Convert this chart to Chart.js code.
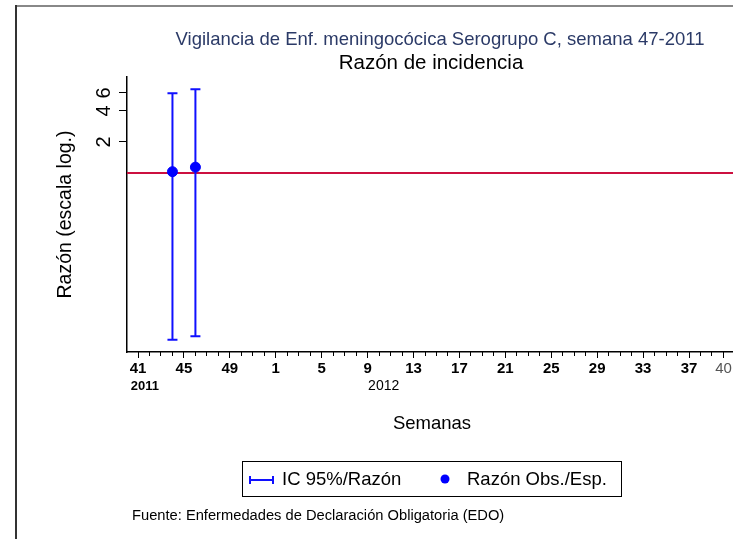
<!DOCTYPE html>
<html><head><meta charset="utf-8">
<script src="https://cdn.jsdelivr.net/npm/chart.js@4/dist/chart.umd.min.js"></script>
<style>html,body{margin:0;padding:0;background:#fff}#wrap{position:relative;width:733px;height:539px}</style>
</head><body><div id="wrap"><canvas id="c" width="733" height="539"></canvas></div>
<script>
// ---- data ----
const weeks = [41,42,43,44,45,46,47,48,49,50,51,52,1,2,3,4,5,6,7,8,9,10,11,12,13,14,15,16,17,18,19,20,21,22,23,24,25,26,27,28,29,30,31,32,33,34,35,36,37,38,39,40];
const labeledIdx = [0,4,8,12,16,20,24,28,32,36,40,44,48,51];
const yearLabels = ['2011','2012'];
const yearIdx = [0.6, 21.4];
const obsIdx = [3, 5];          // semanas 44 y 46 de 2011
const ratio = [1.03, 1.14];
const ciLow = [0.024, 0.026];
const ciHigh = [5.95, 6.5];
const refValue = 1;
const yTicks = [2, 4, 6];

const FONT = "'Liberation Sans', Arial, sans-serif";
const X_MIN = -0.96, X_MAX = 51.83, Y_MIN = 0.0183, Y_MAX = 8.55;

const decor = {
  id: 'decor',
  beforeDatasetDraw(chart, args) {
    if (chart.data.datasets[args.index].label !== 'Razón Obs./Esp.') return;
    const x = chart.scales.x, y = chart.scales.y, ctx = chart.ctx;
    ctx.save();
    ctx.strokeStyle = '#1010FF';
    ctx.lineWidth = 2;
    obsIdx.forEach((xi, i) => {
      const px = x.getPixelForValue(xi);
      const lo = y.getPixelForValue(ciLow[i]);
      const hi = y.getPixelForValue(ciHigh[i]);
      ctx.beginPath();
      ctx.moveTo(px, lo); ctx.lineTo(px, hi);
      ctx.moveTo(px - 5, lo); ctx.lineTo(px + 5, lo);
      ctx.moveTo(px - 5, hi); ctx.lineTo(px + 5, hi);
      ctx.stroke();
    });
    ctx.restore();
  },
  afterDraw(chart) {
    const ctx = chart.ctx, x = chart.scales.x, y = chart.scales.y;
    ctx.save();
    // frame
    ctx.lineWidth = 2;
    ctx.strokeStyle = '#888';
    ctx.beginPath(); ctx.moveTo(16, 6); ctx.lineTo(733, 6); ctx.stroke();
    ctx.strokeStyle = '#333';
    ctx.beginPath(); ctx.moveTo(16, 5); ctx.lineTo(16, 539); ctx.stroke();
    // titles
    ctx.textAlign = 'center'; ctx.textBaseline = 'middle';
    ctx.fillStyle = '#2B3A67';
    ctx.font = '18.5px ' + FONT;
    ctx.fillText('Vigilancia de Enf. meningocócica Serogrupo C, semana 47-2011', 440, 40);
    ctx.fillStyle = '#000';
    ctx.font = '20.5px ' + FONT;
    ctx.fillText('Razón de incidencia', 431, 63);
    // y tick labels (rotated)
    ctx.font = '20px ' + FONT;
    yTicks.forEach(v => {
      ctx.save();
      ctx.translate(104, y.getPixelForValue(v));
      ctx.rotate(-Math.PI / 2);
      ctx.fillText(String(v), 0, 0);
      ctx.restore();
    });
    // y title
    ctx.save();
    ctx.translate(66, (chart.chartArea.top + chart.chartArea.bottom) / 2);
    ctx.rotate(-Math.PI / 2);
    ctx.font = '19.5px ' + FONT;
    ctx.fillText('Razón (escala log.)', 0, 0);
    ctx.restore();
    // year labels
    ctx.font = 'bold 13px ' + FONT;
    ctx.fillText(yearLabels[0], x.getPixelForValue(yearIdx[0]), 386);
    ctx.font = '14px ' + FONT;
    ctx.fillText(yearLabels[1], x.getPixelForValue(yearIdx[1]), 386);
    // x title
    ctx.font = '18.5px ' + FONT;
    ctx.fillText('Semanas', 432, 424);
    // legend
    ctx.strokeStyle = '#000'; ctx.lineWidth = 1;
    ctx.strokeRect(242.5, 461.5, 379, 35);
    ctx.strokeStyle = '#1010FF'; ctx.lineWidth = 2;
    ctx.beginPath();
    ctx.moveTo(250, 480); ctx.lineTo(273, 480);
    ctx.moveTo(250, 476); ctx.lineTo(250, 484);
    ctx.moveTo(273, 476); ctx.lineTo(273, 484);
    ctx.stroke();
    ctx.fillStyle = '#0000FF';
    ctx.beginPath(); ctx.arc(445, 479, 4.5, 0, Math.PI * 2); ctx.fill();
    ctx.fillStyle = '#000';
    ctx.textAlign = 'left';
    ctx.font = '18.5px ' + FONT;
    ctx.fillText('IC 95%/Razón', 282, 480);
    ctx.fillText('Razón Obs./Esp.', 467, 480);
    // footer
    ctx.font = '14.7px ' + FONT;
    ctx.fillText('Fuente: Enfermedades de Declaración Obligatoria (EDO)', 132, 516);
    ctx.restore();
  }
};

new Chart(document.getElementById('c'), {
  type: 'scatter',
  data: {
    datasets: [
      {
        label: 'Razón Obs./Esp.',
        type: 'scatter',
        order: 1,
        data: obsIdx.map((xi, i) => ({ x: xi, y: ratio[i] })),
        backgroundColor: '#0000FF',
        borderColor: '#0000FF',
        pointRadius: 5,
        pointHoverRadius: 5
      },
      {
        label: 'Referencia',
        type: 'line',
        order: 2,
        data: [{ x: X_MIN, y: refValue }, { x: X_MAX, y: refValue }],
        borderColor: '#CC1040',
        borderWidth: 2,
        pointRadius: 0,
        fill: false
      }
    ]
  },
  options: {
    responsive: false,
    devicePixelRatio: 1,
    animation: false,
    events: [],
    layout: { autoPadding: false, padding: { top: 77, left: 0, right: 0, bottom: 157 } },
    plugins: { legend: { display: false }, title: { display: false }, tooltip: { enabled: false } },
    scales: {
      x: {
        type: 'linear', min: X_MIN, max: X_MAX, position: 'bottom', weight: 1,
        afterBuildTicks: s => { s.ticks = labeledIdx.map(v => ({ value: v })); },
        ticks: {
          autoSkip: false, maxRotation: 0, minRotation: 0, padding: 2,
          callback: v => String(weeks[v]),
          font: c => ({ family: FONT, size: 15, weight: c.index === labeledIdx.length - 1 ? 'normal' : 'bold' }),
          color: c => c.index === labeledIdx.length - 1 ? '#555' : '#000'
        },
        grid: { drawOnChartArea: false, drawTicks: true, tickLength: 6, tickColor: '#000', tickWidth: 1 },
        border: { display: true, color: '#000', width: 1.5 },
        afterFit: s => { s.height = 30; s.paddingLeft = 0; s.paddingRight = 0; }
      },
      xMinor: {
        type: 'linear', min: X_MIN, max: X_MAX, position: 'bottom', weight: 0,
        afterBuildTicks: s => { s.ticks = weeks.map((w, i) => ({ value: i })); },
        ticks: { display: false },
        grid: { drawOnChartArea: false, drawTicks: true, tickLength: 4, tickColor: '#000', tickWidth: 1 },
        border: { display: false },
        afterFit: s => { s.height = 0; s.paddingLeft = 0; s.paddingRight = 0; }
      },
      y: {
        type: 'logarithmic', min: Y_MIN, max: Y_MAX, position: 'left',
        afterBuildTicks: s => { s.ticks = yTicks.map(v => ({ value: v })); },
        ticks: { display: false },
        grid: { drawOnChartArea: false, drawTicks: true, tickLength: 8, tickColor: '#000', tickWidth: 1 },
        border: { display: true, color: '#000', width: 1.5 },
        afterFit: s => { s.width = 127; s.paddingTop = 0; s.paddingBottom = 0; }
      }
    }
  },
  plugins: [decor]
});
</script>
</body></html>
